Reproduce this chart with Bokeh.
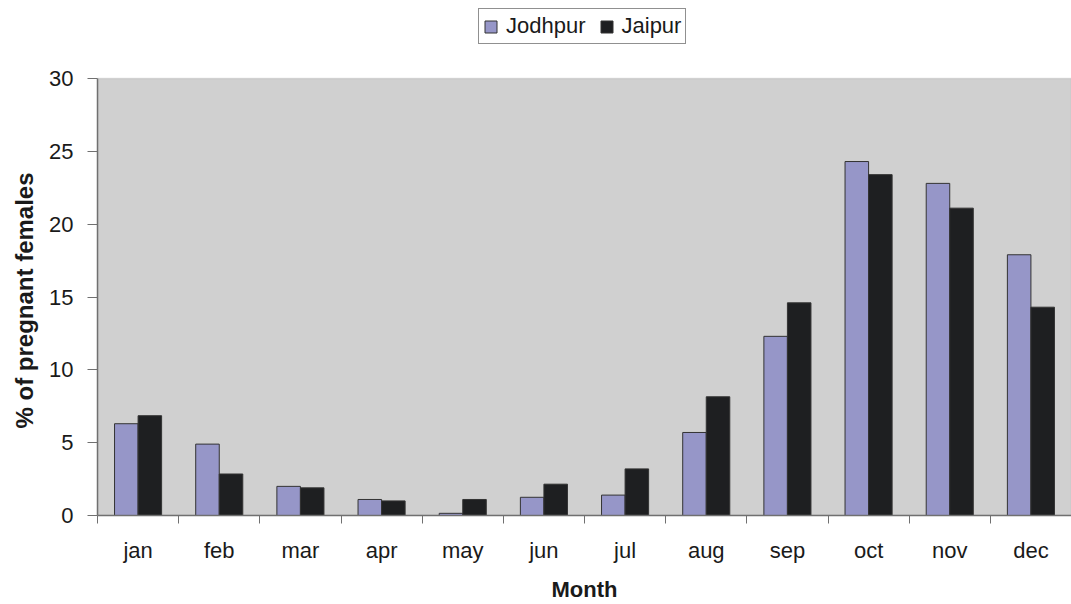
from bokeh.plotting import figure
from bokeh.models import (FactorRange, Range1d, LinearAxis, FixedTicker, Legend,
                          LegendItem, ColumnDataSource, BoxAnnotation, Title)
from bokeh.transform import dodge
from bokeh.embed import file_html
from bokeh.resources import INLINE

months = ["jan", "feb", "mar", "apr", "may", "jun", "jul", "aug", "sep", "oct", "nov", "dec"]
jodhpur = [6.3, 4.9, 2.0, 1.1, 0.15, 1.25, 1.4, 5.7, 12.3, 24.3, 22.8, 17.9]
jaipur = [6.85, 2.85, 1.9, 1.0, 1.1, 2.15, 3.2, 8.15, 14.6, 23.4, 21.1, 14.3]
y_ticks = [0, 5, 10, 15, 20, 25, 30]

FONT = "Liberation Sans"
TXT = "#1a1a1a"
AXIS = "#707070"

Y_MAX = 30
PLOT_H = 437          # px height of the shaded plot area
TOP_GAP = 78          # px of white space above it (holds the legend)
y_top = Y_MAX * (PLOT_H + TOP_GAP) / PLOT_H

src = ColumnDataSource(dict(month=months, jodhpur=jodhpur, jaipur=jaipur))

p = figure(width=1071, height=604, x_range=FactorRange(*months),
           y_range=Range1d(0, y_top), x_axis_type=None, y_axis_type=None,
           output_backend="svg", toolbar_location=None,
           min_border_left=96, min_border_right=0, min_border_top=0,
           min_border_bottom=89)
p.background_fill_color = "white"
p.border_fill_color = "white"
p.outline_line_color = None
p.grid.visible = False

p.add_layout(BoxAnnotation(bottom=0, top=Y_MAX, fill_color="#d0d0d0", fill_alpha=1,
                           line_color="#a0a0a0", line_width=1.5, level="underlay"))

r1 = p.vbar(x=dodge("month", -0.145, range=p.x_range), top="jodhpur", width=0.29,
            source=src, fill_color="#9696c8", line_color="#333333", line_width=1)
r2 = p.vbar(x=dodge("month", 0.145, range=p.x_range), top="jaipur", width=0.29,
            source=src, fill_color="#1e1f21", line_color="#333333", line_width=1)

# y axis
yax = LinearAxis(ticker=FixedTicker(ticks=y_ticks, minor_ticks=[]), bounds=(0, Y_MAX))
yax.major_label_text_font = FONT
yax.major_label_text_font_size = "22px"
yax.major_label_text_color = TXT
yax.major_label_standoff = 14
yax.major_tick_in = 0
yax.major_tick_out = 10
yax.major_tick_line_color = AXIS
yax.axis_line_color = AXIS
yax.axis_line_width = 1.5
p.add_layout(yax, "left")

# y-axis title, centred on the shaded plot area rather than the whole frame
ytitle = Title(text="% of pregnant females", align="left", offset=87,
               text_font=FONT, text_font_size="24px", text_font_style="bold",
               text_color=TXT, standoff=17)
p.add_layout(ytitle, "left")

# x axis: labels at category centres, ticks at category boundaries
centres = [i + 0.5 for i in range(len(months))]
bounds = [float(i) for i in range(len(months) + 1)]
xax = LinearAxis(ticker=FixedTicker(ticks=centres, minor_ticks=bounds))
xax.major_label_overrides = {c: m for c, m in zip(centres, months)}
xax.axis_label = "Month"
xax.axis_label_text_font = FONT
xax.axis_label_text_font_style = "bold"
xax.axis_label_text_font_size = "22px"
xax.axis_label_text_color = TXT
xax.axis_label_standoff = 11
xax.major_label_text_font = FONT
xax.major_label_text_font_size = "22px"
xax.major_label_text_color = TXT
xax.major_label_standoff = 14
xax.major_tick_line_color = None
xax.major_tick_in = 0
xax.major_tick_out = 0
xax.minor_tick_in = 0
xax.minor_tick_out = 8
xax.minor_tick_line_color = AXIS
xax.axis_line_color = AXIS
xax.axis_line_width = 1.5
p.add_layout(xax, "below")

legend = Legend(items=[LegendItem(label="Jodhpur", renderers=[r1]),
                       LegendItem(label="Jaipur", renderers=[r2])],
                orientation="horizontal", location=(381, 471))
legend.label_text_font = FONT
legend.label_text_font_size = "22px"
legend.label_text_color = TXT
legend.glyph_width = 15
legend.glyph_height = 15
legend.label_standoff = 8
legend.spacing = 13
legend.padding = 4
legend.margin = 0
legend.border_line_color = "#222222"
legend.border_line_width = 1
legend.background_fill_color = "white"
legend.background_fill_alpha = 1
p.add_layout(legend, "center")

open("out.html", "w").write(file_html(p, INLINE))
